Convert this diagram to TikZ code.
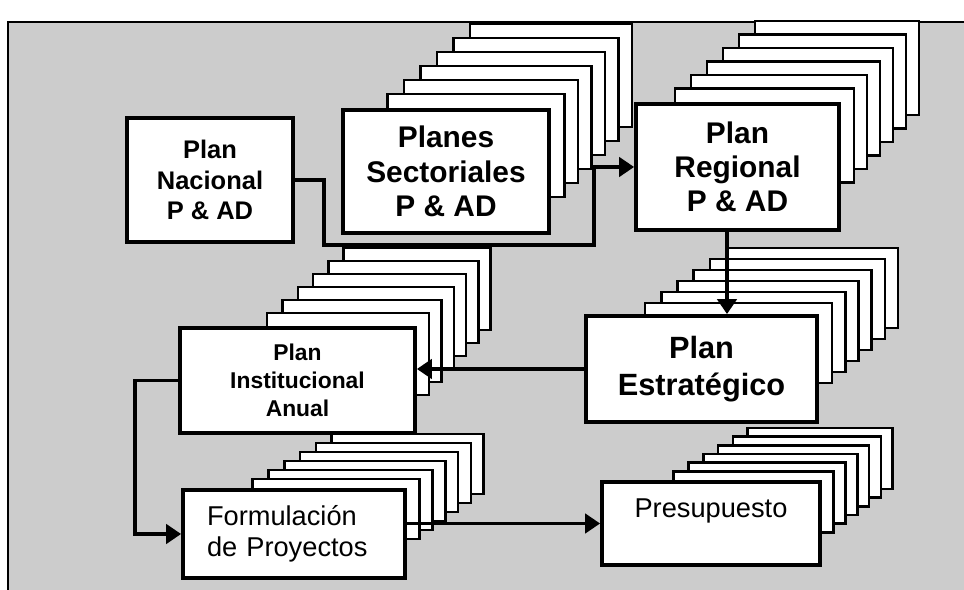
\documentclass[tikz,border=0pt]{standalone}
\usepackage{fontspec}
\setmainfont{Liberation Sans}
\usetikzlibrary{positioning,calc,arrows.meta}

\pgfdeclarelayer{paper}
\pgfdeclarelayer{sheets}
\pgfsetlayers{paper,sheets,main}

% sheets behind a box: node, width, height, x step, y step
\newcommand{\sheets}[5]{%
  \foreach \s in {6,5,...,1} {
    \draw[sheet] ($(#1.north east)+(\s*#4,-\s*#5)$) rectangle ++(-#2+3*\s,#3);
  }%
}

\begin{document}
\begin{tikzpicture}[x=0.02cm, y=-0.02cm,
        box/.style={draw, line width=2.2pt, fill=white, align=center, inner sep=0pt},
        sheet/.style={draw, line width=1.4pt, fill=white},
        connection/.style={-{Triangle[length=8.5pt,width=11pt]}, line width=1.9pt},
        big/.style={font=\fontsize{17}{19.5}\selectfont\bfseries},
        mid/.style={font=\fontsize{14.5}{17.5}\selectfont\bfseries},
        small/.style={font=\fontsize{13}{16}\selectfont\bfseries},
        plain/.style={font=\fontsize{15.5}{17.5}\selectfont}
    ]
    \useasboundingbox (0,0) rectangle (964,590);

    % Background
    \begin{pgfonlayer}{paper}
        \fill[black!20] (8,22) rectangle (964,590);
        \draw[line width=1pt] (8,590) -- (8,22) -- (964,22);
    \end{pgfonlayer}

    % Top row
    \node[box, mid, minimum width=3.32cm, minimum height=2.48cm] (nacional) at (210,180) {Plan\\Nacional\\P \& AD};
    \node[box, big, minimum width=4.12cm, minimum height=2.46cm] (sectoriales) at (446,171.5) {Planes\\Sectoriales\\P \& AD};
    \node[box, big, minimum width=4.06cm, minimum height=2.52cm] (regional) at (737.5,167) {Plan\\Regional\\P \& AD};

    % Middle row
    \node[box, small, minimum width=4.7cm, minimum height=2.1cm] (institucional) at (297.5,380.5) {Plan\\Institucional\\Anual};
    \node[box, big, font=\fontsize{17.5}{21}\selectfont\bfseries, minimum width=4.62cm, minimum height=2.12cm] (estrategico) at (701.5,369) {Plan\\Estratégico};

    % Bottom row
    \node[box, plain, align=left, text width=3.48cm, inner xsep=0.48cm, minimum height=1.76cm] (formulacion) at (294,534) {Formulación\\de Proyectos};
    \node[box, plain, minimum width=4.36cm, text height=0.72cm, text depth=0.94cm] (presupuesto) at (711,523.5) {Presupuesto};

    % Sheets behind the boxes
    \begin{pgfonlayer}{sheets}
        \sheets{sectoriales}{180}{103}{13.5}{14}
        \sheets{regional}{182}{94}{13}{13.5}
        \sheets{institucional}{165}{82}{12.3}{13}
        \sheets{estrategico}{190}{80}{13.2}{11}
        \sheets{formulacion}{170}{60}{12.8}{9}
        \sheets{presupuesto}{163}{61}{11.8}{8.7}
    \end{pgfonlayer}

    % Connections
    \coordinate (bend) at (594,245);
    \draw[connection] (nacional.east) -- ++(29,0) |- (bend) |- (regional.west);
    \draw[connection] ([xshift=-0.21cm]regional.south) -- ([xshift=-0.21cm]regional.south |- estrategico.north);
    \draw[connection] (estrategico.west) -- (estrategico.west -| institucional.east);
    \draw[connection] (institucional.west) -- ++(-43,0) |- (formulacion.west);
    \draw[connection] (formulacion.east |- presupuesto.west) -- (presupuesto.west);

\end{tikzpicture}
\end{document}
